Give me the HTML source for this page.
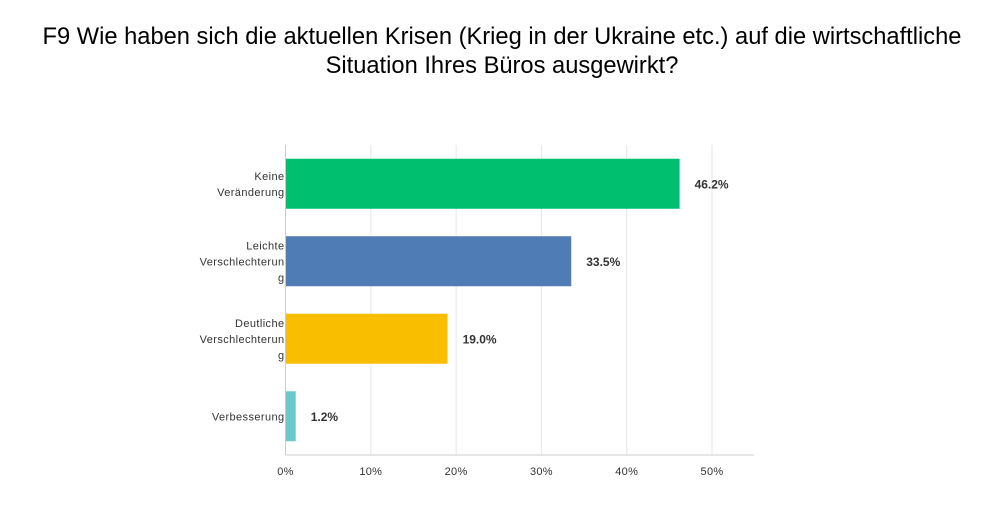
<!DOCTYPE html>
<html><head><meta charset="utf-8"><style>
body{margin:0;background:#fff;width:1000px;height:528px;overflow:hidden;font-family:"Liberation Sans",sans-serif}
#title{position:absolute;left:0;top:23px;width:1004px;text-align:center;font-size:23.7px;line-height:29px;color:#000}
</style></head><body>
<div id="title">F9 Wie haben sich die aktuellen Krisen (Krieg in der Ukraine etc.) auf die wirtschaftliche<br>Situation Ihres Büros ausgewirkt?</div>
<svg id="chart" width="1000" height="528" style="position:absolute;left:0;top:0"></svg>
<script>
const categories=[["Keine","Veränderung"],["Leichte","Verschlechterun","g"],["Deutliche","Verschlechterun","g"],["Verbesserung"]];
const values=[46.2,33.5,19.0,1.2];
const valueLabels=["46.2%","33.5%","19.0%","1.2%"];
const colors=["#00bf6f","#507cb6","#f9be00","#6bc8cd"];
const ticks=[0,10,20,30,40,50];
const tickLabels=["0%","10%","20%","30%","40%","50%"];
const NS="http://www.w3.org/2000/svg";
const svgEl=document.getElementById('chart');
const x0=285.5,pxPer=8.53,plotTop=145,plotBottom=455,axisEnd=754;
const xs=v=>x0+v*pxPer;
const band=(plotBottom-plotTop)/categories.length;
const yc=i=>plotTop+band*i+band/2;
function mk(t,a){const e=document.createElementNS(NS,t);for(const k in a)e.setAttribute(k,a[k]);svgEl.appendChild(e);return e;}
ticks.forEach((t,i)=>{
  if(t>0){const g=mk('line',{x1:xs(t),x2:xs(t),y1:plotTop,y2:plotBottom,stroke:'#e6e6e6','stroke-width':1});
  
  }
  const l=mk('text',{x:xs(t),y:plotBottom+20,'text-anchor':'middle','font-size':11,fill:'#333','letter-spacing':'0.3'});
  l.textContent=tickLabels[i];
  
  
});
categories.forEach((c,i)=>{
  const h=50;
  const r=mk('rect',{x:x0,y:yc(i)-h/2,width:xs(values[i])-x0,height:h,fill:colors[i]});
  
  
  const v=mk('text',{x:xs(values[i])+15,y:yc(i)+4.5,'font-size':12,'font-weight':'bold',fill:'#333'});
  v.textContent=valueLabels[i];
  
  
  const n=c.length;
  c.forEach((line,j)=>{
    const t=mk('text',{x:x0-1,y:yc(i)+4+(j-(n-1)/2)*16,'text-anchor':'end','font-size':11,fill:'#333','letter-spacing':'0.4'});
    t.textContent=line;
    
    
  });
});
const ax=mk('line',{x1:x0,x2:x0,y1:plotTop,y2:plotBottom,stroke:'#ccc','stroke-width':1});


const bx=mk('line',{x1:x0,x2:axisEnd,y1:plotBottom,y2:plotBottom,stroke:'#ccc','stroke-width':1});


</script>
</body></html>
